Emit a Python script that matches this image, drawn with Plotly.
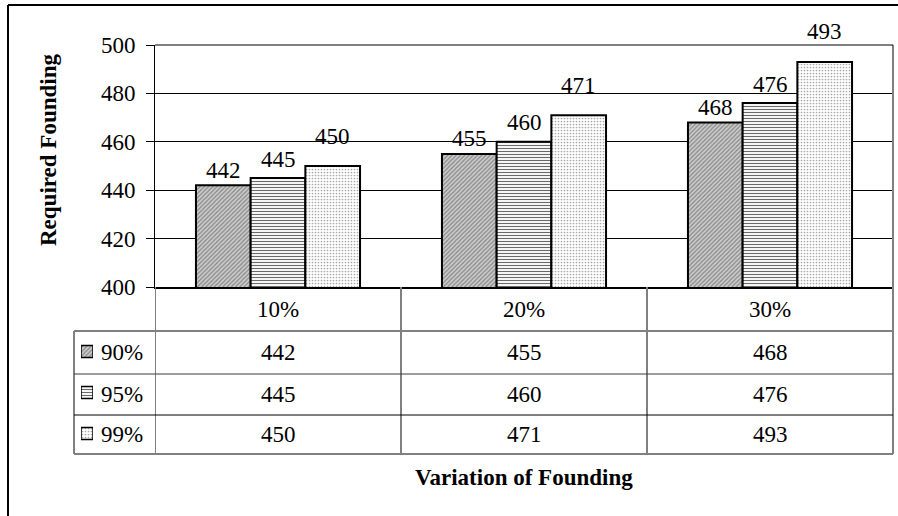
import plotly.graph_objects as go

# Data
categories = ["10%", "20%", "30%"]
series_names = ["90%", "95%", "99%"]
values_90 = [442, 455, 468]
values_95 = [445, 460, 476]
values_99 = [450, 471, 493]
y_ticks = [400, 420, 440, 460, 480, 500]
x_title = "Variation of Founding"
y_title = "Required Founding"

series_values = [values_90, values_95, values_99]

W, H = 898, 516
FONT = "Liberation Serif, Times New Roman, serif"
FS = 23
BARGAP = 0.333


def px(x):
    return x / W


def py(y):
    return 1 - y / H


# plot area in pixels
PL, PR, PT, PB = 155, 893, 45, 287
# table rows (pixels)
ROW_EDGES = [287, 331, 374, 415, 454]
TABLE_LEFT = 74

patterns = [
    dict(shape="/", size=3, solidity=0.4, fgcolor="#858585", bgcolor="#cdcdcd"),
    dict(shape="-", size=3, solidity=0.38, fgcolor="#6a6a6a", bgcolor="#ffffff"),
    dict(shape=".", size=3, solidity=0.25, fgcolor="#a8a8a8", bgcolor="#ffffff"),
]
# vertical lift of each series' value label above its bar top (px)
label_lift = [15, 19, 30]

fig = go.Figure()

for name, vals, pat in zip(series_names, series_values, patterns):
    fig.add_trace(go.Bar(
        x=list(range(len(categories))), y=vals, name=name,
        marker=dict(color=pat["bgcolor"], pattern=pat,
                    line=dict(color="black", width=2)),
        showlegend=False, hoverinfo="skip",
    ))

# legend keys in the first table column (one small patterned bar per series)
KEY_W = 0.29
for name, pat in zip(series_names, patterns):
    fig.add_trace(go.Bar(
        y=[name], x=[1], orientation="h", width=KEY_W, offset=-KEY_W / 2,
        xaxis="x2", yaxis="y2", showlegend=False, hoverinfo="skip",
        marker=dict(color=pat["bgcolor"], pattern=pat,
                    line=dict(color="black", width=1.5)),
    ))

shapes = []
annotations = []


def text(x, y, s, xref="paper", yref="paper", xanchor="center", **kw):
    annotations.append(dict(x=x, y=y, xref=xref, yref=yref, text=s,
                            showarrow=False, xanchor=xanchor, yanchor="middle",
                            font=dict(family=FONT, size=FS, color="black"),
                            **kw))


# value labels above the bars
n_series = len(series_names)
bar_w = (1 - BARGAP) / n_series
for s, (vals, lift) in enumerate(zip(series_values, label_lift)):
    for i, v in enumerate(vals):
        text(i + (s - (n_series - 1) / 2) * bar_w, v, str(v),
             xref="x", yref="y", yshift=lift)

# outer chart frame
shapes.append(dict(type="line", xref="paper", yref="paper",
                   x0=px(8), x1=px(900), y0=py(5), y1=py(5),
                   line=dict(color="black", width=2)))
shapes.append(dict(type="line", xref="paper", yref="paper",
                   x0=px(8), x1=px(8), y0=py(5), y1=py(520),
                   line=dict(color="black", width=2)))

# plot area right border continues down through the table
shapes.append(dict(type="line", xref="paper", yref="paper",
                   x0=px(PR), x1=px(PR), y0=py(PT), y1=py(ROW_EDGES[-1]),
                   line=dict(color="#808080", width=2)))
shapes.append(dict(type="line", xref="paper", yref="paper",
                   x0=px(PL), x1=px(PR), y0=py(PT), y1=py(PT),
                   line=dict(color="black", width=1)))

# table: vertical separators
for xv in [-0.5, 0.5, 1.5]:
    shapes.append(dict(type="line", xref="x", yref="paper",
                       x0=xv, x1=xv, y0=py(ROW_EDGES[0]), y1=py(ROW_EDGES[-1]),
                       line=dict(color="#808080", width=2)))
shapes.append(dict(type="line", xref="paper", yref="paper",
                   x0=px(TABLE_LEFT), x1=px(TABLE_LEFT),
                   y0=py(ROW_EDGES[1]), y1=py(ROW_EDGES[-1]),
                   line=dict(color="#808080", width=2)))
# table: horizontal separators
row_styles = [("#808080", 2), ("#3a3a3a", 1), ("black", 1), ("#808080", 2)]
for yv, (col, wd) in zip(ROW_EDGES[1:], row_styles):
    shapes.append(dict(type="line", xref="paper", yref="paper",
                       x0=px(TABLE_LEFT), x1=px(PR), y0=py(yv), y1=py(yv),
                       line=dict(color=col, width=wd)))

# header row: categories
hdr_mid = (ROW_EDGES[0] + ROW_EDGES[1]) / 2
for i, c in enumerate(categories):
    text(i, py(hdr_mid), c, xref="x")

# data rows
for r, (name, vals) in enumerate(zip(series_names, series_values)):
    mid = (ROW_EDGES[r + 1] + ROW_EDGES[r + 2]) / 2
    text(px(99), py(mid), name, xanchor="left")
    for i, v in enumerate(vals):
        text(i, py(mid), str(v), xref="x")

# axis titles
text(px(524), py(477), f"<b>{x_title}</b>")
text(px(48), py(150), f"<b>{y_title}</b>", textangle=-90)

fig.update_layout(
    template="none",
    width=W, height=H,
    margin=dict(l=0, r=0, t=0, b=0, pad=0, autoexpand=False),
    paper_bgcolor="white", plot_bgcolor="white",
    barmode="group", bargap=BARGAP, bargroupgap=0,
    xaxis=dict(domain=[px(PL), px(PR)], range=[-0.5, 2.5], automargin=False,
               showticklabels=False, ticks="", showgrid=False,
               showline=True, linecolor="black", linewidth=1.5,
               zeroline=False, fixedrange=True),
    yaxis=dict(domain=[py(PB), py(PT)], range=[400, 500], automargin=False,
               tickvals=y_ticks, ticktext=[str(t) for t in y_ticks],
               ticks="outside", ticklen=8, tickwidth=1, tickcolor="black",
               ticklabelstandoff=6,
               tickfont=dict(family=FONT, size=FS, color="black"),
               showgrid=True, gridcolor="black", gridwidth=1,
               showline=True, linecolor="black", linewidth=1,
               zeroline=False, fixedrange=True),
    xaxis2=dict(domain=[px(81), px(93)], range=[0, 1], anchor="y2",
                automargin=False, visible=False, fixedrange=True),
    yaxis2=dict(domain=[py(ROW_EDGES[-1]), py(ROW_EDGES[1])], anchor="x2",
                automargin=False, type="category", categoryorder="array",
                categoryarray=series_names[::-1],
                range=[-0.5, 2.5], visible=False, fixedrange=True),
    shapes=shapes, annotations=annotations,
    font=dict(family=FONT, size=FS, color="black"),
)

fig.write_html("out.html")
